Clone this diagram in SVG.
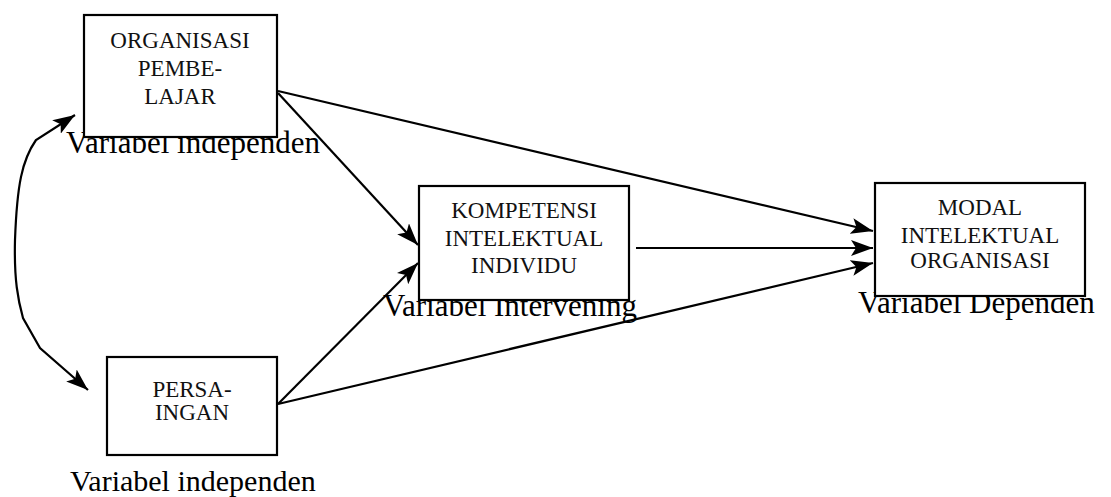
<svg xmlns="http://www.w3.org/2000/svg" width="1111" height="497" viewBox="0 0 1111 497">
<style>
.lbl{font-family:"Liberation Serif","Times New Roman",serif;font-size:31px;fill:#000}
.bt{font-family:"Liberation Serif","Times New Roman",serif;font-size:23px;fill:#111;text-anchor:middle}
.box{fill:#fff;stroke:#000;stroke-width:2.2}
.con{fill:none;stroke:#000;stroke-width:2.2}
</style>
<defs>
<marker id="ah" viewBox="0 0 22 16" refX="22" refY="8" markerWidth="22" markerHeight="16" markerUnits="userSpaceOnUse" orient="auto-start-reverse">
<path d="M0,0 L22,8 L0,16 L5,8 z" fill="#000"/>
</marker>
</defs>
<g id="labels">
<text class="lbl" x="66" y="153">Variabel independen</text>
<text class="lbl" x="383" y="316">Variabel Intervening</text>
<text class="lbl" x="858" y="313">Variabel Dependen</text>
<text class="lbl" x="70" y="491" style="font-size:30px">Variabel independen</text>
</g>
<g id="node-organisasi">
<rect class="box" x="84" y="15" width="193" height="122"/>
<text class="bt" x="180" y="48">ORGANISASI</text>
<text class="bt" x="180" y="76">PEMBE-</text>
<text class="bt" x="180" y="104">LAJAR</text>
</g>
<g id="node-persaingan">
<rect class="box" x="107" y="357" width="170" height="98"/>
<text class="bt" x="192" y="397">PERSA-</text>
<text class="bt" x="192" y="420">INGAN</text>
</g>
<g id="node-kompetensi">
<rect class="box" x="419" y="186" width="210" height="114"/>
<text class="bt" x="524" y="218">KOMPETENSI</text>
<text class="bt" x="524" y="246">INTELEKTUAL</text>
<text class="bt" x="524" y="273">INDIVIDU</text>
</g>
<g id="node-modal">
<rect class="box" x="875" y="183" width="210" height="113"/>
<text class="bt" x="980" y="215">MODAL</text>
<text class="bt" x="980" y="243">INTELEKTUAL</text>
<text class="bt" x="980" y="268">ORGANISASI</text>
</g>
<g id="connectors">
<line class="con" x1="278" y1="91" x2="873" y2="231" marker-end="url(#ah)"/>
<line class="con" x1="278" y1="93" x2="418" y2="245" marker-end="url(#ah)"/>
<line class="con" x1="278" y1="404" x2="418" y2="263" marker-end="url(#ah)"/>
<line class="con" x1="278" y1="404" x2="873" y2="263" marker-end="url(#ah)"/>
<line class="con" x1="636" y1="248" x2="873" y2="248" marker-end="url(#ah)"/>
<path class="con" d="M75,115 L36,140 C22,160 17,185 15,240 C14,280 18,300 23,318 L40,348 L88,390" marker-start="url(#ah)" marker-end="url(#ah)"/>
</g>
</svg>
